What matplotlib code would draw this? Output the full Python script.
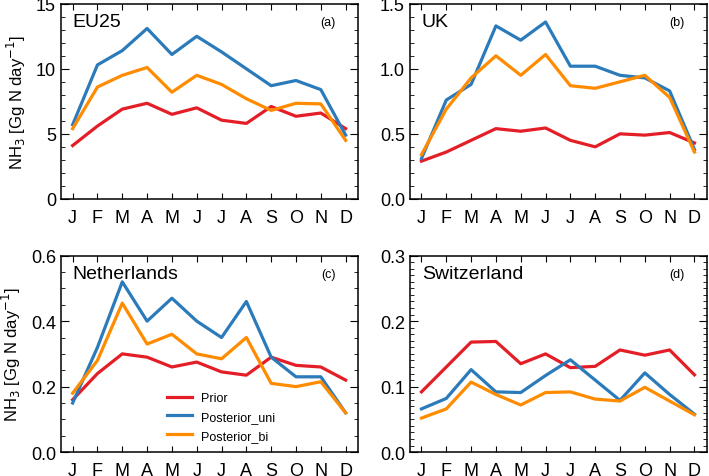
import numpy as np
import matplotlib
matplotlib.use("Agg")
import matplotlib.pyplot as plt
from matplotlib.ticker import MultipleLocator

plt.rcParams['font.family'] = ['Liberation Sans', 'DejaVu Sans']

months = ['J', 'F', 'M', 'A', 'M', 'J', 'J', 'A', 'S', 'O', 'N', 'D']
regions = ['EU25', 'UK', 'Netherlands', 'Switzerland']
panel_tags = ['(a)', '(b)', '(c)', '(d)']
series_names = ['Prior', 'Posterior_uni', 'Posterior_bi']

# EU25
eu_prior = [4.1, 5.6, 6.9, 7.35, 6.5, 7.0, 6.05, 5.8, 7.1, 6.35, 6.6, 5.4]
eu_uni = [5.7, 10.3, 11.4, 13.1, 11.1, 12.5, 11.3, 10.0, 8.7, 9.1, 8.4, 4.9]
eu_bi = [5.4, 8.6, 9.5, 10.1, 8.2, 9.5, 8.8, 7.7, 6.8, 7.35, 7.3, 4.5]

# UK
uk_prior = [0.29, 0.36, 0.45, 0.54, 0.52, 0.545, 0.45, 0.40, 0.50, 0.49, 0.51, 0.43]
uk_uni = [0.31, 0.76, 0.88, 1.33, 1.22, 1.36, 1.02, 1.02, 0.95, 0.93, 0.83, 0.38]
uk_bi = [0.34, 0.69, 0.93, 1.10, 0.95, 1.11, 0.87, 0.85, 0.90, 0.95, 0.78, 0.36]

# Netherlands
nl_prior = [0.16, 0.24, 0.30, 0.29, 0.26, 0.275, 0.245, 0.235, 0.29, 0.265, 0.26, 0.22]
nl_uni = [0.15, 0.32, 0.52, 0.40, 0.47, 0.40, 0.35, 0.46, 0.29, 0.23, 0.23, 0.12]
nl_bi = [0.18, 0.28, 0.455, 0.33, 0.36, 0.30, 0.285, 0.35, 0.21, 0.20, 0.215, 0.12]

# Switzerland
ch_prior = [0.092, 0.13, 0.168, 0.169, 0.135, 0.15, 0.129, 0.131, 0.156, 0.148, 0.156, 0.118]
ch_uni = [0.066, 0.082, 0.126, 0.092, 0.091, 0.117, 0.141, 0.11, 0.079, 0.121, 0.088, 0.058]
ch_bi = [0.052, 0.066, 0.107, 0.088, 0.072, 0.091, 0.092, 0.081, 0.078, 0.099, 0.078, 0.057]

data = [(eu_prior, eu_uni, eu_bi), (uk_prior, uk_uni, uk_bi),
        (nl_prior, nl_uni, nl_bi), (ch_prior, ch_uni, ch_bi)]

ylims = [(0, 15), (0, 1.5), (0, 0.6), (0, 0.3)]
majors = [5, 0.5, 0.2, 0.1]
minors = [1, 0.1, 0.05, 0.01]
ytick_fmt = ['{:.0f}', '{:.1f}', '{:.1f}', '{:.1f}']

colors = ['#e41e26', '#2b7bba', '#ff8c00']

fig = plt.figure(figsize=(7.09, 4.77), dpi=100)
positions = [[0.086, 0.581, 0.419, 0.409],
             [0.578, 0.581, 0.419, 0.409],
             [0.086, 0.050, 0.419, 0.412],
             [0.578, 0.050, 0.419, 0.412]]

x = np.arange(12)
for i in range(4):
    ax = fig.add_axes(positions[i])
    for j in range(3):
        ax.plot(x, data[i][j], color=colors[j], lw=2.3, label=series_names[j])
    ax.set_xlim(-0.47, 11.5)
    ax.set_ylim(*ylims[i])
    ax.set_xticks(x)
    ax.set_xticklabels(months)
    ax.yaxis.set_minor_locator(MultipleLocator(minors[i]))
    yt = np.arange(ylims[i][0], ylims[i][1] + majors[i] / 2, majors[i])
    ax.set_yticks(yt)
    ax.set_yticklabels([ytick_fmt[i].format(v) for v in yt])
    ax.tick_params(axis='both', which='both', direction='in', top=True, right=True)
    ax.tick_params(axis='both', which='major', length=6, labelsize=13)
    ax.tick_params(axis='x', which='major', length=4, pad=7)
    ax.tick_params(axis='y', which='minor', length=3)
    for sp in ax.spines.values():
        sp.set_linewidth(1.1)
    ax.text(0.04, 0.91, regions[i], transform=ax.transAxes, fontsize=14, va='center', ha='left')
    ax.text(0.90, 0.905, panel_tags[i], transform=ax.transAxes, fontsize=9, va='center', ha='center')
    if i % 2 == 0:
        ax.set_ylabel('NH$_3$ [Gg N day$^{-1}$]', fontsize=12, labelpad=6)
    if i == 2:
        ax.legend(loc='center left', bbox_to_anchor=(0.32, 0.18), frameon=False,
                  fontsize=9, handlelength=2.0, labelspacing=0.55, handletextpad=0.7)

fig.savefig('out.png', dpi=100)
